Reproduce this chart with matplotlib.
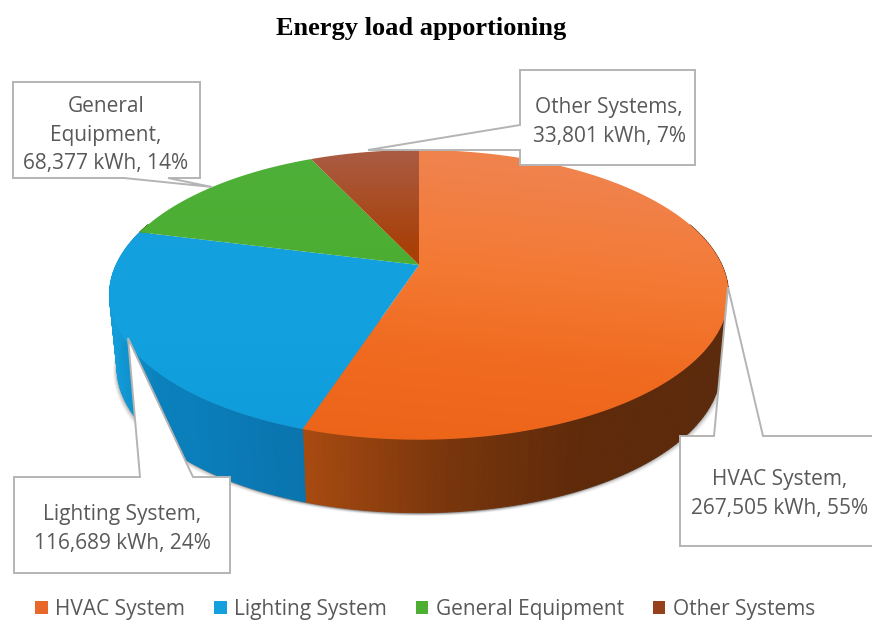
import numpy as np
import matplotlib.pyplot as plt
from matplotlib.patches import Polygon, Patch
from matplotlib.colors import LinearSegmentedColormap

# Energy use per system (kWh)
systems = ['HVAC System', 'Lighting System', 'General Equipment', 'Other Systems']
values = [267505, 116689, 68377, 33801]

top_colors = [['#f0824c', '#f47a34', '#f06a20', '#ec6418'],
              ['#1aa3e0', '#14a0de', '#12a0de', '#109cdc'],
              ['#4fb03a', '#4cae32', '#48ac2e', '#48aa2c'],
              ['#aa5c44', '#a84008', '#a84008', '#a84008']]
side_colors = [['#a84a10', '#7a360c', '#5e2a0a', '#5c2a0c'],
               ['#129cd8', '#0a80bc', '#0a7eba', '#0a78b4', '#0a74ae'],
               ['#3a8a24', '#3a8a24', '#3a8a24', '#3a8a24'],
               ['#7a3010', '#7a3010', '#7a3010', '#7a3010']]
legend_colors = ['#e8672a', '#14a0dc', '#4cae32', '#96401c']
text_color = '#595959'
box_edge = '#b4b4b4'

# Callout outlines, in pixels of the picture
callouts = [
    [(680, 436), (714, 436), (728, 287), (763, 436), (880, 436), (880, 546), (680, 546)],
    [(14, 477), (140, 477), (128, 338), (193, 477), (230, 477), (230, 573), (14, 573)],
    [(13, 82), (200, 82), (200, 178), (168, 178), (212, 187), (124, 178), (13, 178)],
    [(520, 70), (695, 70), (695, 165), (520, 165), (520, 150), (368, 150), (520, 125)],
]
label_pos = [(780, 494), (122, 529), (106, 135), (609, 122)]
label_text = ['HVAC System,\n267,505 kWh, 55%',
              'Lighting System,\n116,689 kWh, 24%',
              'General\nEquipment,\n68,377 kWh, 14%',
              'Other Systems,\n33,801 kWh, 7%']

# Perspective view of the pie disc
cx, cy = 419, 265
rx, ry = 303, 138.7
persp = 0.206
depth = 73
shrink = 0.975


def project(theta):
    u, v = np.sin(theta), np.cos(theta)
    d = 1 + persp * v
    return cx + rx * u / d, cy - ry * v / d


def lower(x, y):
    return cx + (x - cx) * shrink, y + depth


fig, ax = plt.subplots(figsize=(8.72, 6.22), dpi=100)
ax.set_position([0, 0, 1, 1])
ax.axis('off')

shares = np.array(values) / sum(values)
edges = np.concatenate([[0], np.cumsum(shares)]) * 2 * np.pi

# soft shadow below the disc
t = np.linspace(np.pi * 0.45, np.pi * 1.55, 200)
x, y = lower(*project(t))
for off, a in zip([8, 6, 4, 2], [0.05, 0.08, 0.12, 0.18]):
    for sign in [-1, 1]:
        ax.add_patch(Polygon(np.column_stack([x + sign * off * 0.5, y + off * 0.4]),
                             closed=True, fc='#303030', ec='none', alpha=a, zorder=1))

# side wall, narrow strips with shading
for i in range(len(values)):
    lo, hi = max(edges[i], np.pi * 0.4), min(edges[i + 1], np.pi * 1.6)
    if hi <= lo:
        continue
    cmap = LinearSegmentedColormap.from_list('side', side_colors[i])
    ts = np.linspace(lo, hi, 120)
    xs, ys = project(ts)
    xb, yb = lower(xs, ys)
    for j in range(len(ts) - 1):
        if i == 0:
            c = cmap((xs[j] - 305) / (729 - 305))
        else:
            c = cmap((xs[j] - 110) / (305 - 110))
        quad = [(xs[j], ys[j]), (xs[j + 1], ys[j + 1]),
                (xb[j + 1], yb[j + 1]), (xb[j], yb[j])]
        ax.add_patch(Polygon(quad, closed=True, fc=c, ec=c, lw=0.6, zorder=2))

# top face, each wedge a clipped gradient
yfrac, xfrac = np.mgrid[0:1:256j, 0:1:256j]
for i in range(len(values)):
    ts = np.linspace(edges[i], edges[i + 1], 200)
    xs, ys = project(ts)
    poly = Polygon(np.column_stack([np.r_[cx, xs], np.r_[cy, ys]]),
                   closed=True, fc='none', ec='none', zorder=3)
    ax.add_patch(poly)
    cmap = LinearSegmentedColormap.from_list('top', top_colors[i])
    grad = yfrac - 0.3 * xfrac + 0.1 if i == 0 else yfrac
    im = ax.imshow(grad, cmap=cmap, vmin=0, vmax=1, extent=(0, 872, 440, 150),
                   aspect='auto', zorder=3)
    im.set_clip_path(poly)
ax.set_xlim(0, 872)
ax.set_ylim(622, 0)

# callouts
for outline, pos, txt in zip(callouts, label_pos, label_text):
    ax.add_patch(Polygon(outline, closed=True, fc='white', ec=box_edge, lw=1.4, zorder=5))
    ax.text(pos[0], pos[1], txt, ha='center', va='center', fontsize=15,
            family='Open Sans', color=text_color, linespacing=1.5, zorder=6)

ax.text(421, 29, 'Energy load apportioning', ha='center', va='center',
        fontsize=19, fontweight='bold', family='Liberation Serif', color='black')

handles = [Patch(fc=c, ec='none') for c in legend_colors]
fig.legend(handles, systems, loc='center', bbox_to_anchor=(425 / 872, 1 - 609 / 622),
           ncol=4, frameon=False, labelcolor=text_color,
           prop={'family': 'Open Sans', 'size': 15}, handlelength=0.6, handleheight=0.6,
           handletextpad=0.35, columnspacing=1.4, borderpad=0)

fig.savefig('out.png', dpi=100)
